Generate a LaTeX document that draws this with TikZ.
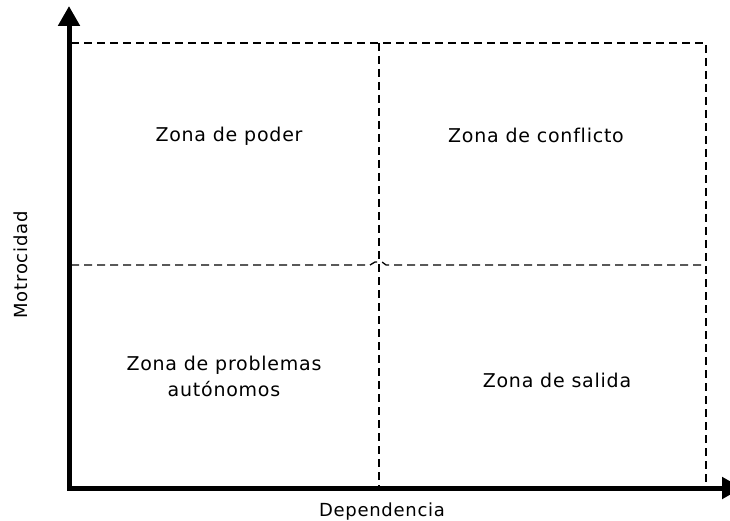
\documentclass[tikz,border=0pt]{standalone}
\usepackage{fontspec}
\setmainfont{DejaVu Sans}[LetterSpace=4,Ligatures=NoCommon]
\usetikzlibrary{arrows.meta}
\begin{document}
\begin{tikzpicture}[x=1pt,y=-1pt,
  axis/.style={line width=5pt, line join=miter,
    {Triangle[length=20pt,width=21pt]}-{Triangle[length=20pt,width=21pt]}},
  gridline/.style={line width=1.3pt, dash pattern=on 8pt off 5pt},
  lbl/.style={font=\fontsize{19}{26}\selectfont, anchor=base, align=center, inner sep=0pt},
  axlbl/.style={font=\fontsize{18}{20}\selectfont, inner sep=0pt}]
\useasboundingbox (0,0) rectangle (730,521);
\fill[white] (0,0) rectangle (730,521);
% axes
\coordinate (O) at (69,488);
\coordinate (Ytop) at (69,6);
\coordinate (Xend) at (742,488);
\draw[axis] (Ytop) -- (O) -- (Xend);
% grid
\coordinate (TL) at (71,43);
\coordinate (TM) at (379,43);
\coordinate (TR) at (706,43);
\coordinate (BM) at (379,486);
\coordinate (BR) at (706,486);
\coordinate (ML) at (71,265);
\coordinate (MR) at (706,265);
\coordinate (H1) at (370,265);
\coordinate (H2) at (375,262);
\coordinate (H3) at (382,262);
\coordinate (H4) at (386,265);
\draw[gridline] (TL) -- (TR) -- (BR);
\draw[gridline] (TM) -- (BM);
\draw[gridline] (ML) -- (H1) -- (H2) -- (H3) -- (H4) -- (MR);
% labels
\node[lbl] (poder) at (229,142) {Zona de poder};
\node[lbl] (conflicto) at (536,143) {Zona de conflicto};
\node[lbl] (autonomos) at (224,396) {Zona de problemas\\autónomos};
\node[lbl] (salida) at (557,387) {Zona de salida};
\node[axlbl, anchor=base] (dep) at (382,516) {Dependencia};
\node[axlbl, rotate=90] (mot) at (21,265) {Motrocidad};
\end{tikzpicture}
\end{document}
